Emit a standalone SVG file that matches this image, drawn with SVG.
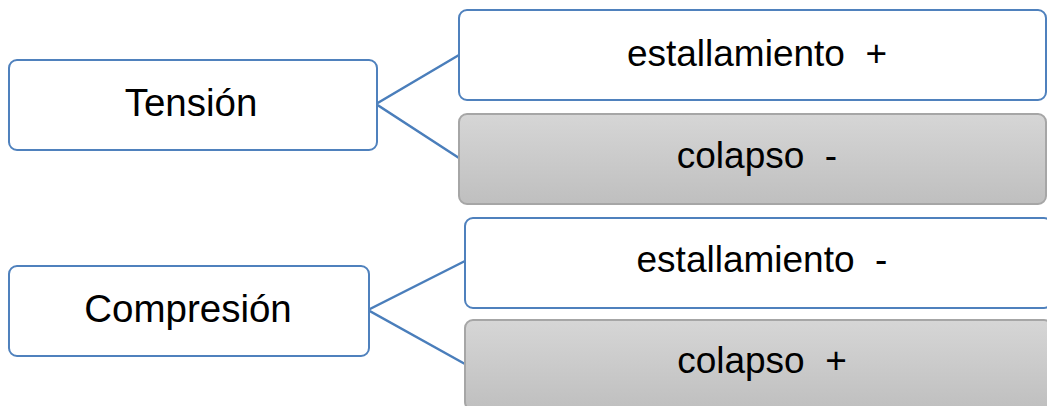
<svg xmlns="http://www.w3.org/2000/svg" width="1047" height="406" viewBox="0 0 1047 406">
<style>
.b{fill:#ffffff;stroke:#4f81bd;stroke-width:2}
.g{fill:url(#gr);stroke:#a6a6a6;stroke-width:2}
.t{font-family:"Liberation Sans",Arial,sans-serif;font-size:37px;fill:#000;text-anchor:middle}
.l{font-size:38.5px}
.c{fill:none;stroke:#4a7ebb;stroke-width:2.5}
</style>
<defs>
<linearGradient id="gr" x1="0" y1="0" x2="0" y2="1">
<stop offset="0" stop-color="#d6d6d6"/>
<stop offset="1" stop-color="#bfbfbf"/>
</linearGradient>
</defs>
<g id="connectors">
<polyline class="c" points="459,55 376,104 459,158"/>
<polyline class="c" points="465,261 368,310 465,364"/>
</g>
<g id="tension">
<rect class="b" x="9" y="60" width="368" height="90" rx="8"/>
<text class="t l" x="191" y="116">Tensión</text>
</g>
<g id="estallamiento-plus">
<rect class="b" x="459" y="10" width="587" height="90" rx="8"/>
<text class="t" x="757" y="66" xml:space="preserve">estallamiento  +</text>
</g>
<g id="colapso-minus">
<rect class="g" x="459" y="114" width="587" height="90" rx="8"/>
<text class="t" x="757" y="168" xml:space="preserve">colapso  -</text>
</g>
<g id="compresion">
<rect class="b" x="9" y="266" width="360" height="90" rx="8"/>
<text class="t l" x="188" y="322">Compresión</text>
</g>
<g id="estallamiento-minus">
<rect class="b" x="465" y="218" width="587" height="90" rx="8"/>
<text class="t" x="762" y="272" xml:space="preserve">estallamiento  -</text>
</g>
<g id="colapso-plus">
<rect class="g" x="465" y="320" width="587" height="90" rx="8"/>
<text class="t" x="762" y="373" xml:space="preserve">colapso  +</text>
</g>
</svg>
